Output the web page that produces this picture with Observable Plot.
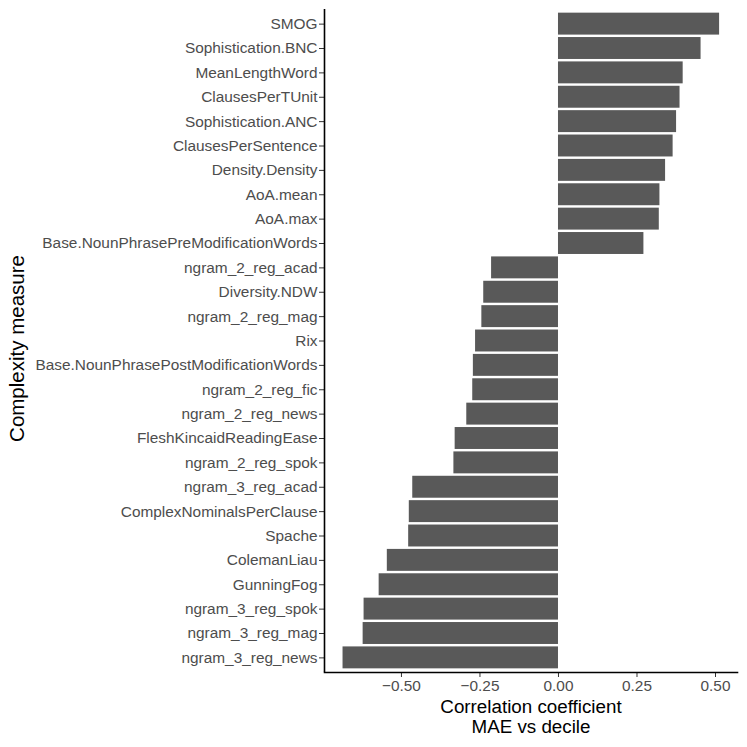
<!DOCTYPE html>
<html>
<head>
<meta charset="utf-8">
<script src="https://cdn.jsdelivr.net/npm/d3@7"></script>
<script src="https://cdn.jsdelivr.net/npm/@observablehq/plot@0.6"></script>
<style>
  html, body { margin: 0; padding: 0; background: #fff; }
  svg { display: block; }
</style>
</head>
<body>
<div id="chart"></div>
<script>
const measures = [
  "SMOG", "Sophistication.BNC", "MeanLengthWord", "ClausesPerTUnit", "Sophistication.ANC",
  "ClausesPerSentence", "Density.Density", "AoA.mean", "AoA.max", "Base.NounPhrasePreModificationWords",
  "ngram_2_reg_acad", "Diversity.NDW", "ngram_2_reg_mag", "Rix", "Base.NounPhrasePostModificationWords",
  "ngram_2_reg_fic", "ngram_2_reg_news", "FleshKincaidReadingEase", "ngram_2_reg_spok", "ngram_3_reg_acad",
  "ComplexNominalsPerClause", "Spache", "ColemanLiau", "GunningFog", "ngram_3_reg_spok",
  "ngram_3_reg_mag", "ngram_3_reg_news"
];
const correlations = [
  0.513, 0.454, 0.397, 0.387, 0.376,
  0.365, 0.341, 0.323, 0.321, 0.272,
  -0.213, -0.238, -0.244, -0.264, -0.271,
  -0.273, -0.292, -0.329, -0.333, -0.464,
  -0.475, -0.477, -0.545, -0.571, -0.619,
  -0.622, -0.686
];
const xTicks = [-0.5, -0.25, 0, 0.25, 0.5];
const xLabel = "Correlation coefficient\nMAE vs decile";
const yLabel = "Complexity measure";

const data = measures.map((m, i) => ({measure: m, r: correlations[i]}));
const xDomain = [-0.745, 0.570];
const fmt = d => (d < 0 ? "\u2212" : "") + Math.abs(d).toFixed(2);

const chart = Plot.plot({
  width: 747,
  height: 747,
  marginTop: 9,
  marginBottom: 75,
  marginLeft: 324,
  marginRight: 10,
  style: {fontFamily: "'Liberation Sans', Arial, sans-serif", background: "#fff"},
  x: {domain: xDomain, ticks: xTicks, tickFormat: fmt, label: null},
  y: {domain: measures, paddingInner: 0.1, paddingOuter: 0.15, round: false, label: null},
  marks: [
    Plot.barX(data, {x: "r", y: "measure", fill: "#595959"}),
    Plot.axisX({ticks: xTicks, tickFormat: fmt, tickSize: 5, tickPadding: 3, fontSize: 15.4, color: "#4d4d4d", stroke: "#333", label: null}),
    Plot.axisY({tickSize: 5, tickPadding: 2, fontSize: 15.4, color: "#4d4d4d", stroke: "#333", label: null}),
    Plot.ruleX([xDomain[0]], {stroke: "#000", strokeWidth: 1.6}),
    Plot.frame({anchor: "bottom", stroke: "#000", strokeWidth: 1.6}),
    Plot.text([xLabel], {frameAnchor: "bottom", dy: 44, fontSize: 18.8, fill: "#000", lineAnchor: "middle", lineHeight: 1.06}),
    Plot.text([yLabel], {frameAnchor: "left", textAnchor: "middle", dx: -307, dy: 7.5, rotate: -90, fontSize: 20.5, fill: "#000"})
  ]
});
document.getElementById("chart").appendChild(chart);
</script>
</body>
</html>
